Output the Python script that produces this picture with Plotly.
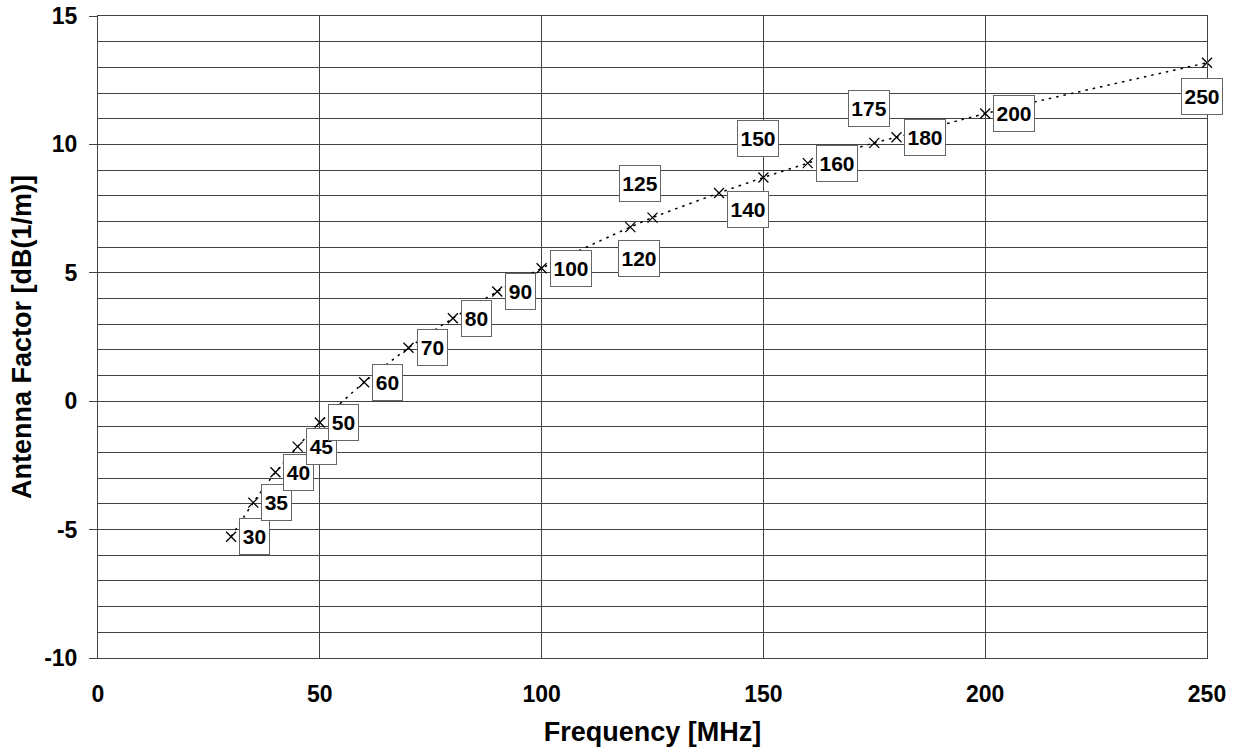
import plotly.graph_objects as go

# ---- data ----
freq_mhz = [30, 35, 40, 45, 50, 60, 70, 80, 90, 100, 120, 125, 140, 150, 160, 175, 180, 200, 250]
antenna_factor = [-5.28, -3.95, -2.77, -1.77, -0.83, 0.74, 2.08, 3.23, 4.27, 5.18,
                  6.78, 7.15, 8.11, 8.71, 9.27, 10.06, 10.28, 11.2, 13.18]
point_labels = [str(f) for f in freq_mhz]
x_tick_vals = [0, 50, 100, 150, 200, 250]
x_tick_text = ["0", "50", "100", "150", "200", "250"]
y_tick_vals = [-10, -5, 0, 5, 10, 15]
y_tick_text = ["-10", "-5", "0", "5", "10", "15"]

# ---- label placement (style, pixels) ----
special_place = {
    120: dict(xanchor="center", xshift=9, yshift=-31),
    125: dict(xanchor="center", xshift=-13, yshift=34),
    140: dict(xanchor="left", xshift=8, yshift=-17),
    150: dict(xanchor="center", xshift=-5, yshift=39),
    175: dict(xanchor="center", xshift=-5, yshift=34),
    250: dict(xanchor="center", xshift=-5, yshift=-34),
}

FONT = "Liberation Sans, Arial, sans-serif"
GRID = "#444444"

fig = go.Figure()
fig.add_trace(go.Scatter(
    x=freq_mhz, y=antenna_factor, mode="lines+markers", cliponaxis=False,
    line=dict(color="black", width=1.5, dash="2.5px,5px", shape="spline", smoothing=0.6),
    marker=dict(symbol="x-thin-open", size=10, color="black", line=dict(color="black", width=1.3)),
    hoverinfo="x+y", showlegend=False,
))

for f, v, lab in zip(freq_mhz, antenna_factor, point_labels):
    place = special_place.get(f, dict(xanchor="left", xshift=8, yshift=0))
    fig.add_annotation(
        x=f, y=v, text=lab, showarrow=False,
        xanchor=place["xanchor"], yanchor="middle",
        xshift=place["xshift"], yshift=place["yshift"],
        font=dict(family=FONT, size=21, color="black", weight="bold"),
        bgcolor="white", bordercolor="#666666", borderwidth=1, borderpad=1,
        width=27 if len(lab) == 2 else 38, height=33, align="center", valign="middle",
    )

fig.update_layout(
    width=1239, height=754,
    margin=dict(l=98, r=32, t=16, b=96),
    paper_bgcolor="white", plot_bgcolor="white",
    font=dict(family=FONT, color="black"),
)
fig.update_xaxes(
    range=[0, 250], tickvals=x_tick_vals, ticktext=x_tick_text, ticks="", automargin=False,
    showgrid=True, gridcolor=GRID, gridwidth=1,
    zeroline=False, showline=True, linecolor=GRID, linewidth=1, mirror=True,
    tickfont=dict(family=FONT, size=23, color="black", weight="bold"), ticklabelstandoff=15,
    title=dict(text="Frequency [MHz]", font=dict(family=FONT, size=27, color="black", weight="bold"), standoff=16),
)
fig.update_yaxes(
    range=[-10, 15], tickvals=y_tick_vals, ticktext=y_tick_text, ticks="outside", ticklen=8,
    tickcolor=GRID, automargin=False,
    showgrid=True, gridcolor=GRID, gridwidth=1,
    minor=dict(dtick=1, tick0=0, showgrid=True, gridcolor=GRID, gridwidth=1, ticks=""),
    zeroline=True, zerolinecolor=GRID, zerolinewidth=1,
    showline=True, linecolor=GRID, linewidth=1, mirror=True,
    tickfont=dict(family=FONT, size=23, color="black", weight="bold"), ticklabelstandoff=7,
    title=dict(text="Antenna Factor [dB(1/m)]", font=dict(family=FONT, size=27, color="black", weight="bold"), standoff=4),
)

fig.write_html("out.html", config={"displayModeBar": False},
               post_script="document.body.style.margin='0px';")
